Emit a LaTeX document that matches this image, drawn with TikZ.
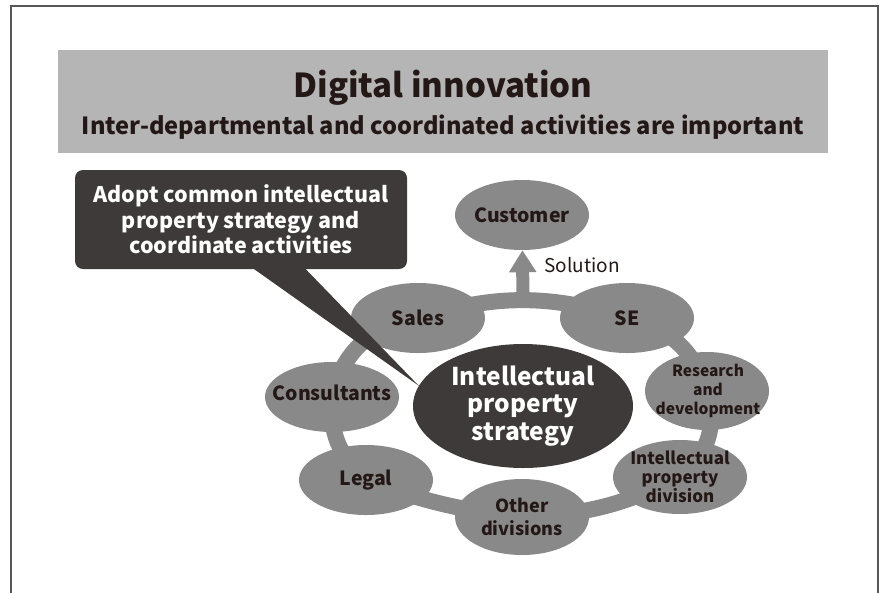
\documentclass[tikz,border=0pt]{standalone}
\usepackage{fontspec}
\setmainfont{Noto Sans CJK JP}
\usetikzlibrary{positioning,calc,shapes.geometric,arrows.meta,backgrounds}
\definecolor{frameline}{HTML}{595757}
\definecolor{band}{HTML}{B5B5B6}
\definecolor{dept}{HTML}{898989}
\definecolor{darkbox}{HTML}{3E3A39}
\definecolor{ink}{HTML}{231815}

\begin{document}
\begin{tikzpicture}[x=1pt,y=-1pt]
\tikzstyle{unit}=[ellipse,fill=dept,inner sep=0pt,minimum width=134,minimum height=70]
\tikzstyle{lbl}=[text=ink,font=\bfseries\fontsize{19.5}{23}\selectfont,align=center]
\tikzstyle{small}=[text=ink,font=\bfseries\fontsize{17}{19}\selectfont,align=center]
\tikzstyle{ring}=[draw=dept,line width=16pt]
\useasboundingbox (0,0) rectangle (880,592);
\draw[frameline,line width=1.2pt] (11,6) rectangle (878,620);

% heading band
\node[fill=band,minimum width=770,minimum height=103,inner sep=0pt] (head) at (443,101.5) {};
\node[anchor=base,text=ink,font=\bfseries\fontsize{33}{36}\selectfont] (title) at (443,97) {Digital innovation};
\node[anchor=base,text=ink,font=\bfseries\fontsize{23.6}{27}\selectfont] (sub) at (443,134) {Inter-departmental and coordinated activities are important};

% departments around the strategy
\node[unit] (cust) at (522,215) {};
\node[lbl] at (cust) {Customer};
\node[unit] (sales) at (418,318) {};
\node[lbl] at (sales) {Sales};
\node[unit] (se) at (627,318) {};
\node[lbl] at (se) {SE};
\node[unit,minimum width=124,minimum height=78] (rd) at (707,391) {};
\node[small,font=\bfseries\fontsize{15.5}{19}\selectfont] at ($(rd)+(1,0)$) {Research\\and\\development};
\node[unit,minimum height=74] (ipd) at (680,477) {};
\node[small] at (ipd) {Intellectual\\property\\division};
\node[unit,minimum height=76] (other) at (522,517) {};
\node[lbl,font=\bfseries\fontsize{18}{23}\selectfont] at (other) {Other\\divisions};
\node[unit] (legal) at (366,480) {};
\node[lbl] at (legal) {Legal};
\node[unit] (cons) at (332,397) {};
\node[lbl] at ($(cons)+(0,-4)$) {Consultants};

\node[ellipse,fill=darkbox,inner sep=0pt,minimum width=220,minimum height=124] (ips) at (523,406) {};
\node[text=white,font=\bfseries\fontsize{24.5}{27.5}\selectfont,align=center] at (ips) {Intellectual\\property\\strategy};

\begin{scope}[on background layer]
\draw[ring] (sales.center) to[bend left=17] (se.center) to[bend left=30] (rd.center)
  to[bend left=35] (ipd.center) to[bend left=12] (other.center) to[bend left=7] (legal.center)
  to[bend left=27] (cons.center) to[bend left=35] (sales.center);
\end{scope}

% solution goes up to the customer
\coordinate (sol) at (523,298);
\draw[dept,line width=13pt,-{Triangle[width=26pt,length=22pt]}] (sol) -- (cust);
\node[anchor=west,text=ink,font=\fontsize{19}{22}\selectfont] (soltxt) at (541,265) {Solution};

% callout
\node[fill=darkbox,rounded corners=8pt,minimum width=332,minimum height=99,text=white,
  font=\bfseries\fontsize{21.5}{25.5}\selectfont,align=center] (callout) at (241,219.5)
  {Adopt common intellectual\\property strategy and\\coordinate activities};
\fill[darkbox] ($(callout.south west)+(178,-1)$) -- (ips.169) -- ($(callout.south west)+(230,-1)$) -- cycle;
\end{tikzpicture}
\end{document}
